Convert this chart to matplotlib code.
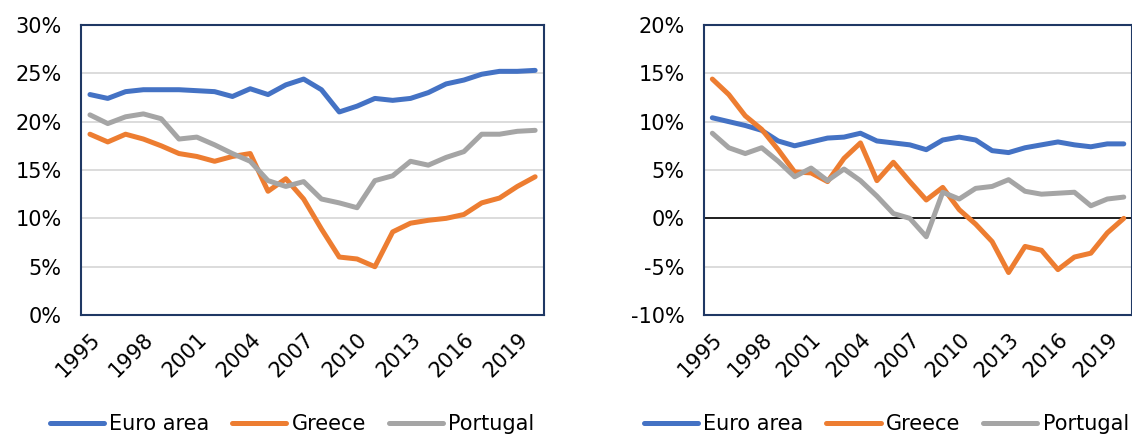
import numpy as np
import matplotlib
matplotlib.use('Agg')
import matplotlib.pyplot as plt
from matplotlib.ticker import FuncFormatter

years = np.arange(1995, 2021)

# left panel (levels, %)
euro_left = [22.8, 22.4, 23.1, 23.3, 23.3, 23.3, 23.2, 23.1, 22.6, 23.4, 22.8, 23.8, 24.4,
             23.3, 21.0, 21.6, 22.4, 22.2, 22.4, 23.0, 23.9, 24.3, 24.9, 25.2, 25.2, 25.3]
greece_left = [18.7, 17.9, 18.7, 18.2, 17.5, 16.7, 16.4, 15.9, 16.4, 16.7, 12.8, 14.1, 12.0,
               8.9, 6.0, 5.8, 5.0, 8.6, 9.5, 9.8, 10.0, 10.4, 11.6, 12.1, 13.3, 14.3]
portugal_left = [20.7, 19.8, 20.5, 20.8, 20.3, 18.2, 18.4, 17.6, 16.7, 15.9, 13.9, 13.3, 13.8,
                 12.0, 11.6, 11.1, 13.9, 14.4, 15.9, 15.5, 16.3, 16.9, 18.7, 18.7, 19.0, 19.1]

# right panel (%)
euro_right = [10.4, 10.0, 9.6, 9.1, 8.0, 7.5, 7.9, 8.3, 8.4, 8.8, 8.0, 7.8, 7.6,
              7.1, 8.1, 8.4, 8.1, 7.0, 6.8, 7.3, 7.6, 7.9, 7.6, 7.4, 7.7, 7.7]
greece_right = [14.4, 12.8, 10.6, 9.2, 7.1, 4.8, 4.7, 3.8, 6.2, 7.8, 3.9, 5.8, 3.8,
                1.9, 3.2, 0.9, -0.6, -2.4, -5.6, -2.9, -3.3, -5.3, -4.0, -3.6, -1.5, 0.0]
portugal_right = [8.8, 7.3, 6.7, 7.3, 5.9, 4.3, 5.2, 3.9, 5.1, 3.9, 2.3, 0.5, 0.0,
                  -1.9, 2.7, 2.0, 3.1, 3.3, 4.0, 2.8, 2.5, 2.6, 2.7, 1.3, 2.0, 2.2]

series_names = ['Euro area', 'Greece', 'Portugal']
colors = ['#4472C4', '#ED7D31', '#A5A5A5']
tick_years = np.arange(1995, 2020, 3)

fs = 15
fig = plt.figure(figsize=(11.32, 4.37), dpi=100)


def draw_panel(ax, data, ylim, yticks, legend_x, zero_line=False):
    for vals, name, c in zip(data, series_names, colors):
        ax.plot(years, vals, color=c, lw=3.6, label=name, solid_capstyle='round',
                solid_joinstyle='round', zorder=3)
    ax.set_xlim(1994.5, 2020.5)
    ax.set_ylim(*ylim)
    ax.set_yticks(yticks)
    ax.yaxis.set_major_formatter(FuncFormatter(lambda v, p: f'{v:.0f}%'))
    ax.set_xticks(tick_years)
    ax.set_xticklabels([str(y) for y in tick_years], rotation=45, ha='right',
                       rotation_mode='anchor')
    ax.tick_params(axis='both', length=0, labelsize=fs)
    ax.tick_params(axis='y', pad=14)
    ax.tick_params(axis='x', pad=10)
    ax.grid(axis='y', color='#D9D9D9', lw=1.3, zorder=0)
    if zero_line:
        ax.axhline(0, color='black', lw=1.2, zorder=2)
    for s in ax.spines.values():
        s.set_color('#1F3864')
        s.set_linewidth(1.5)
    ax.legend(loc='center', bbox_to_anchor=(legend_x, 0.03), bbox_transform=fig.transFigure,
              ncol=3, frameon=False, fontsize=fs, handlelength=2.6, handletextpad=0.25,
              columnspacing=1.1, borderaxespad=0)


ax1 = fig.add_axes([0.0716, 0.279, 0.409, 0.664])
draw_panel(ax1, [euro_left, greece_left, portugal_left], (0, 30), np.arange(0, 31, 5), 0.258)

ax2 = fig.add_axes([0.622, 0.279, 0.378, 0.664])
draw_panel(ax2, [euro_right, greece_right, portugal_right], (-10, 20), np.arange(-10, 21, 5),
           0.783, zero_line=True)

fig.savefig('out.png', dpi=100)
